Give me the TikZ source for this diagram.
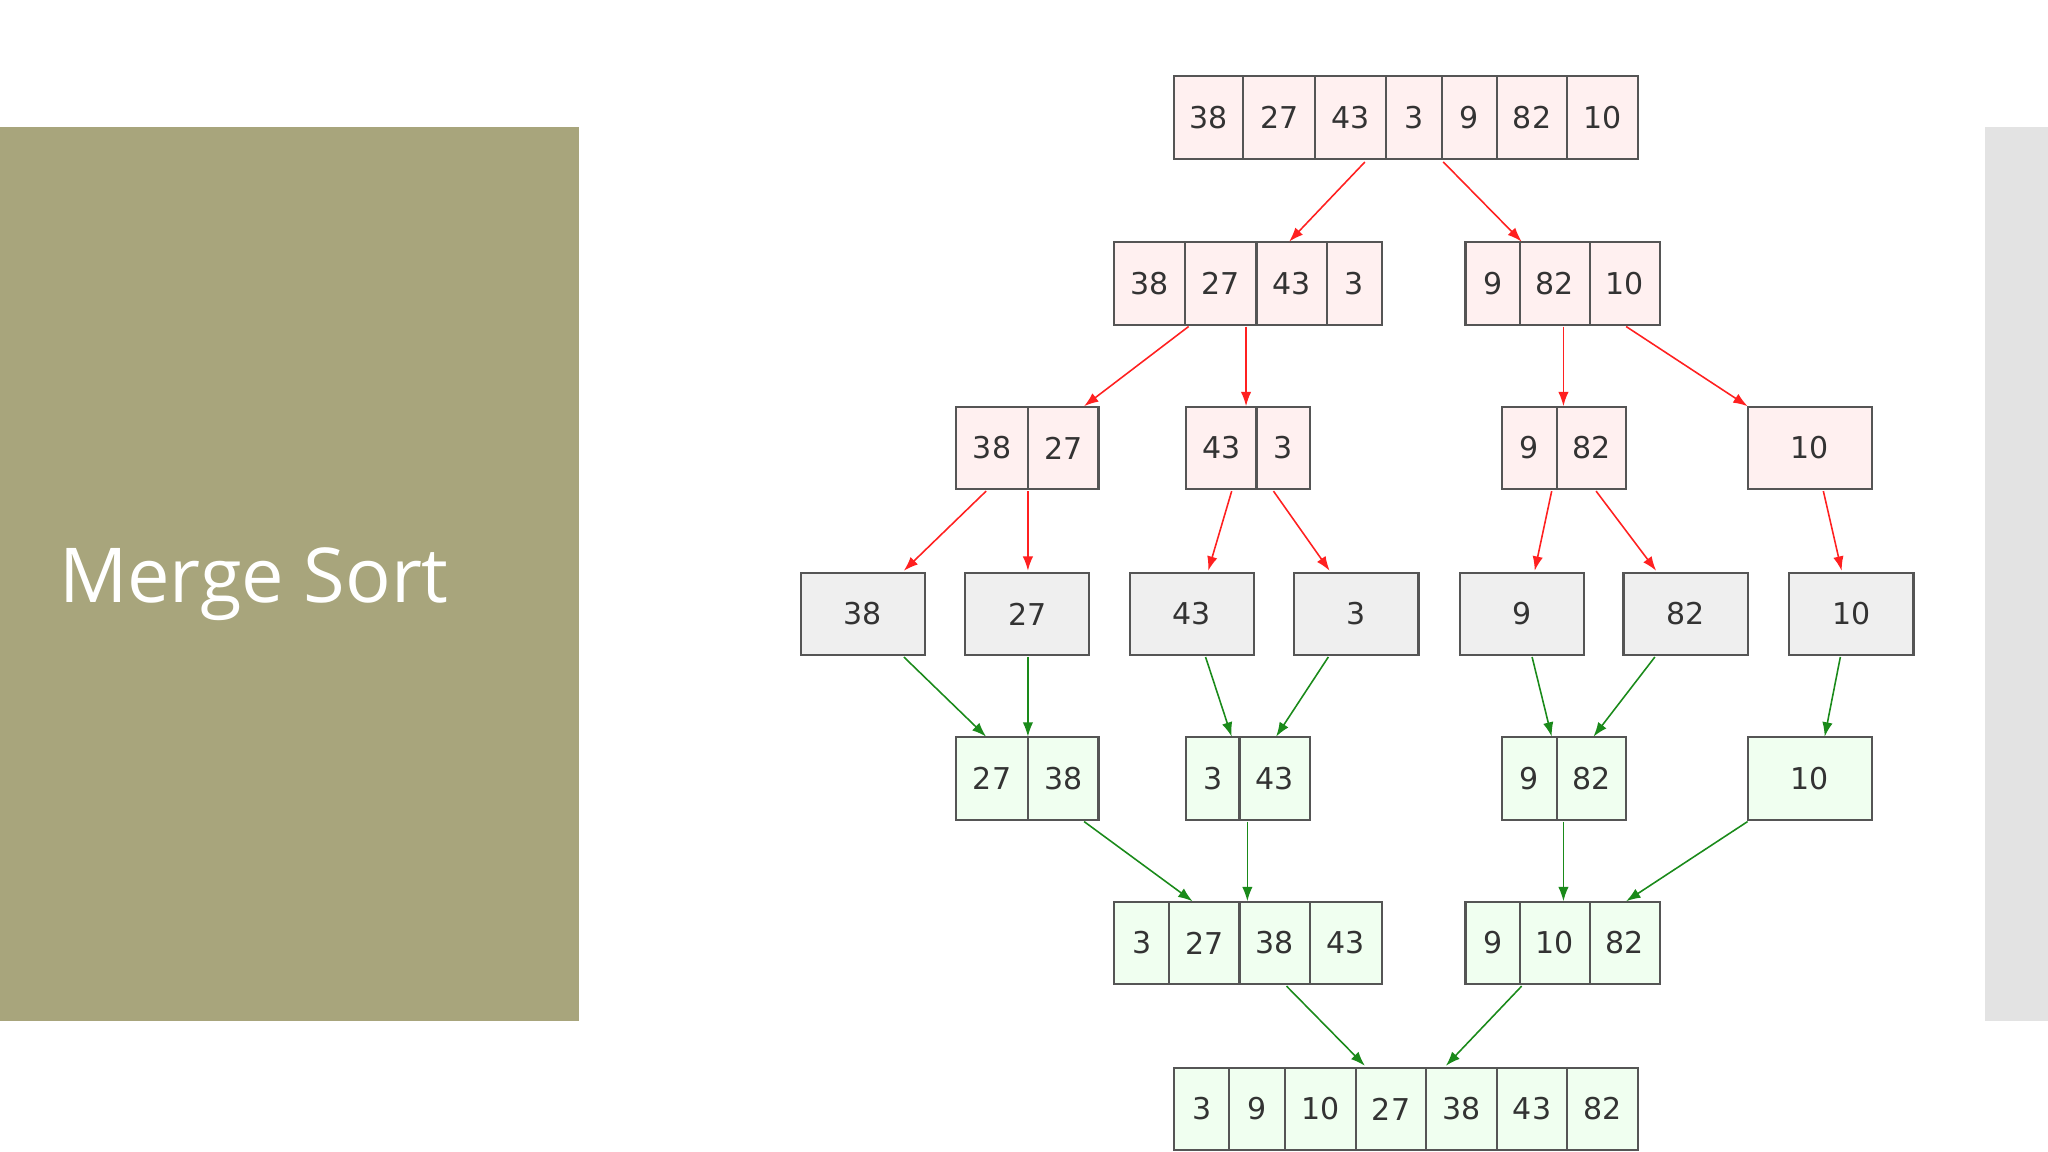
\documentclass[tikz,border=0pt]{standalone}
\usepackage{fontspec}
\usetikzlibrary{arrows.meta}
\setmainfont{Open Sans}
\newfontfamily\cellfont{DejaVu Sans}
\definecolor{olive}{HTML}{A8A57C}
\definecolor{lgrey}{HTML}{E3E3E3}
\definecolor{redfill}{HTML}{FFF0F0}
\definecolor{greyfill}{HTML}{EFEFEF}
\definecolor{greenfill}{HTML}{F0FFF0}
\definecolor{cellborder}{HTML}{555555}
\definecolor{arrred}{HTML}{FF2020}
\definecolor{arrgreen}{HTML}{1A8A1A}
\newcount\arrcount
\begin{document}
\begin{tikzpicture}[x=1pt,y=-1pt,
  cellbox/.style={draw=cellborder,line width=1.6pt,inner sep=0pt,font=\cellfont\fontsize{23}{27}\selectfont,text=black!80},
  redarrow/.style={draw=arrred,line width=1.2pt,-{Latex[length=11pt,width=8pt]}},
  greenarrow/.style={draw=arrgreen,line width=1.2pt,-{Latex[length=11pt,width=8pt]}}]
\useasboundingbox (0,0) rectangle (1568,882);
\fill[white] (0,0) rectangle (1568,882);
\fill[olive] (0,97) rectangle (443,782);
\fill[lgrey] (1520,97) rectangle (1568,782);
\node[anchor=west,text=white,font=\fontsize{58}{66}\selectfont,inner sep=0pt] (title) at (45,447) {Merge Sort};
\newcommand{\cellrow}[3]{%
  \foreach \a/\b/\v in {#3}{%
    \node[cellbox,fill=#1,minimum width={(\b-\a)*1pt},minimum height=63pt] (c#2x\a) at ({(\a+\b)/2},#2) {\v};
  }}
\cellrow{redfill}{90}{899/952/38,952/1007/27,1007/1061/43,1061/1104/3,1104/1146/9,1146/1200/82,1200/1254/10}
\cellrow{redfill}{217}{853/907/38,907/962/27,962/1016/43,1016/1058/3,1122/1164/9,1164/1217/82,1217/1271/10}
\cellrow{redfill}{343}{732/787/38,787/841/27,908/962/43,962/1003/3,1150/1192/9,1192/1245/82,1338/1433/10}
\cellrow{greyfill}{470}{613/708/38,739/834/27,865/960/43,991/1086/3,1118/1213/9,1243/1338/82,1370/1465/10}
\cellrow{greenfill}{596}{732/787/27,787/841/38,908/949/3,949/1003/43,1150/1192/9,1192/1245/82,1338/1433/10}
\cellrow{greenfill}{722}{853/895/3,895/949/27,949/1003/38,1003/1058/43,1122/1164/9,1164/1217/10,1217/1271/82}
\cellrow{greenfill}{849}{899/941/3,941/984/9,984/1038/10,1038/1092/27,1092/1146/38,1146/1200/43,1200/1254/82}
\newcommand{\arr}[3]{%
  \global\advance\arrcount by 1
  \coordinate (s\the\arrcount) at (#2); \coordinate (e\the\arrcount) at (#3);
  \draw[#1] (s\the\arrcount) -- (e\the\arrcount);}
\arr{redarrow}{1045,124}{987,185}
\arr{redarrow}{1105,124}{1165,185}
\arr{redarrow}{910,250}{830,311}
\arr{redarrow}{954,250}{954,311}
\arr{redarrow}{1197,250}{1197,311}
\arr{redarrow}{1245,250}{1338,311}
\arr{redarrow}{755,376}{692,437}
\arr{redarrow}{787,376}{787,437}
\arr{redarrow}{943,376}{925,437}
\arr{redarrow}{975,376}{1018,437}
\arr{redarrow}{1188,376}{1175,437}
\arr{redarrow}{1222,376}{1268,437}
\arr{redarrow}{1396,376}{1410,437}
\arr{greenarrow}{692,503}{755,564}
\arr{greenarrow}{787,503}{787,564}
\arr{greenarrow}{923,503}{943,564}
\arr{greenarrow}{1017,503}{977,564}
\arr{greenarrow}{1173,503}{1188,564}
\arr{greenarrow}{1267,503}{1220,564}
\arr{greenarrow}{1409,503}{1397,564}
\arr{greenarrow}{830,629}{913,690}
\arr{greenarrow}{955,629}{955,690}
\arr{greenarrow}{1197,629}{1197,690}
\arr{greenarrow}{1338,629}{1245,690}
\arr{greenarrow}{985,755}{1045,816}
\arr{greenarrow}{1165,755}{1107,816}
\end{tikzpicture}
\end{document}
